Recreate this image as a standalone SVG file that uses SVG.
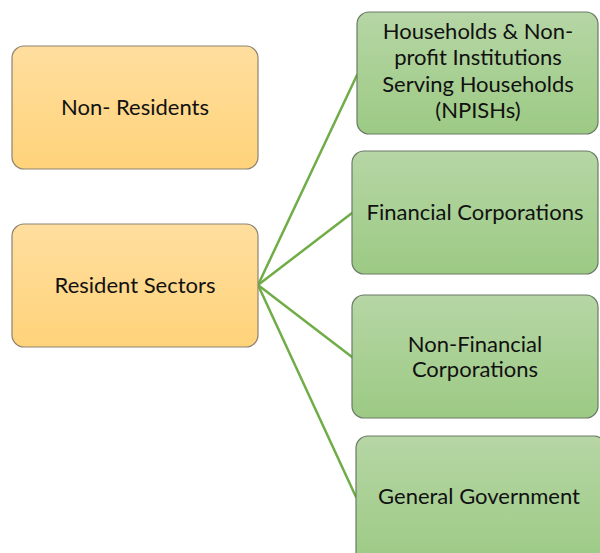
<svg xmlns="http://www.w3.org/2000/svg" width="600" height="553" viewBox="0 0 600 553">
  <defs>
    <linearGradient id="gOrange" x1="0" y1="0" x2="0" y2="1">
      <stop offset="0" stop-color="#FFDE9E"/>
      <stop offset="1" stop-color="#FFD37A"/>
    </linearGradient>
    <linearGradient id="gGreen" x1="0" y1="0" x2="0" y2="1">
      <stop offset="0" stop-color="#B6D6A5"/>
      <stop offset="1" stop-color="#9CCA84"/>
    </linearGradient>
    <style>
      .orange { fill: url(#gOrange); stroke: #8C8373; stroke-width: 1.2; }
      .green { fill: url(#gGreen); stroke: #6B7A66; stroke-width: 1.2; }
      .lbl { font-family: Lato, "Open Sans", "Liberation Sans", sans-serif; font-size: 22px; fill: #111; text-anchor: middle; }
      .link { stroke: #70AD47; stroke-width: 2.5; fill: none; stroke-linecap: round; }
    </style>
  </defs>
  <rect width="600" height="553" fill="#FFFFFF"/>

  <!-- connectors from the resident sectors node -->
  <g id="connectors">
    <line class="link" x1="258" y1="285" x2="357" y2="75"/>
    <line class="link" x1="258" y1="285" x2="352" y2="213"/>
    <line class="link" x1="258" y1="285" x2="352" y2="357"/>
    <line class="link" x1="258" y1="285" x2="356" y2="497"/>
  </g>

  <g id="non-residents">
    <rect class="orange" x="12" y="46" width="246" height="123" rx="12"/>
    <text class="lbl" x="135" y="115">Non- Residents</text>
  </g>

  <g id="resident-sectors">
    <rect class="orange" x="12" y="224" width="246" height="123" rx="12"/>
    <text class="lbl" x="135" y="293">Resident Sectors</text>
  </g>

  <g id="households">
    <rect class="green" x="357" y="12" width="241" height="122" rx="12"/>
    <text class="lbl" x="478" y="39">Households &amp; Non-</text>
    <text class="lbl" x="478" y="65">profit Institutions</text>
    <text class="lbl" x="478" y="92">Serving Households</text>
    <text class="lbl" x="478" y="118">(NPISHs)</text>
  </g>

  <g id="financial">
    <rect class="green" x="352" y="151" width="246" height="123" rx="12"/>
    <text class="lbl" x="475" y="220">Financial Corporations</text>
  </g>

  <g id="non-financial">
    <rect class="green" x="352" y="295" width="246" height="123" rx="12"/>
    <text class="lbl" x="475" y="352">Non-Financial</text>
    <text class="lbl" x="475" y="377">Corporations</text>
  </g>

  <g id="general-government">
    <rect class="green" x="356" y="436" width="250" height="130" rx="12"/>
    <text class="lbl" x="479" y="504">General Government</text>
  </g>
</svg>
